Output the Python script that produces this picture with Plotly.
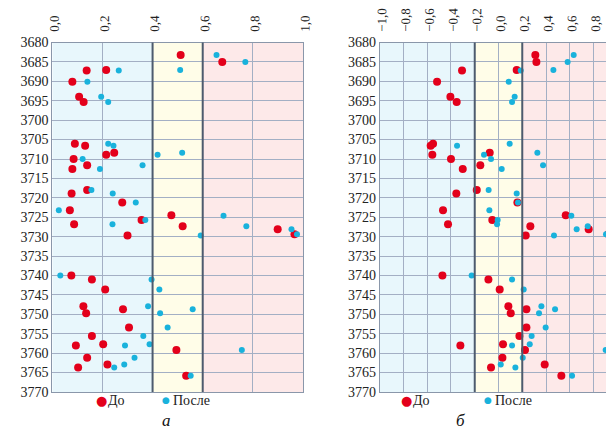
import plotly.graph_objects as go

# ---------------- data ----------------
depth_a = [3683.2, 3685.0, 3687.2, 3687.1, 3690.1, 3694.0, 3695.3,
           3706.1, 3706.6, 3708.9, 3708.4, 3710.0, 3711.6, 3712.6, 3718.0, 3718.9,
           3721.2, 3723.2, 3724.5, 3725.7, 3726.8, 3727.3, 3728.1, 3729.4, 3729.7,
           3740.0, 3741.0, 3743.6, 3747.9, 3748.7, 3749.7, 3753.4, 3755.6, 3758.0,
           3757.7, 3759.2, 3761.2, 3762.9, 3763.7, 3765.8]
before_a = [0.512, 0.678, 0.137, 0.215, 0.080, 0.107, 0.125,
            0.090, 0.131, 0.215, 0.247, 0.085, 0.139, 0.080, 0.139, 0.077,
            0.279, 0.070, 0.475, 0.356, 0.087, 0.520, 0.899, 0.966, 0.300,
            0.076, 0.158, 0.211, 0.124, 0.282, 0.135, 0.306, 0.158, 0.094,
            0.203, 0.495, 0.139, 0.220, 0.103, 0.534]
after_a_depth = [3683.2, 3685.0, 3687.2, 3687.1, 3690.1, 3694.0, 3695.3,
                 3706.1, 3706.6, 3708.9, 3708.4, 3710.0, 3711.6, 3712.6, 3718.0, 3718.9,
                 3721.2, 3723.2, 3724.6, 3725.7, 3726.8, 3727.3, 3728.1, 3729.4, 3729.7,
                 3740.0, 3741.0, 3743.6, 3747.9, 3748.7, 3749.7, 3753.4, 3755.6, 3758.0,
                 3757.7, 3759.2, 3761.2, 3762.9, 3763.7, 3765.8]
after_a = [0.655, 0.770, 0.265, 0.510, 0.140, 0.195, 0.223,
           0.223, 0.244, 0.420, 0.518, 0.121, 0.360, 0.190, 0.156, 0.241,
           0.333, 0.026, 0.683, 0.371, 0.240, 0.774, 0.954, 0.976, 0.592,
           0.032, 0.396, 0.427, 0.382, 0.560, 0.430, 0.460, 0.363, 0.290,
           0.388, 0.756, 0.328, 0.287, 0.247, 0.552]

depth_b = [3683.2, 3685.0, 3687.2, 3687.1, 3690.1, 3694.0, 3695.3,
           3706.1, 3706.6, 3708.9, 3708.4, 3710.0, 3711.6, 3712.6, 3718.0, 3718.9,
           3721.2, 3723.2, 3724.5, 3725.7, 3726.8, 3727.3, 3728.1, 3729.4, 3729.7,
           3740.0, 3741.0, 3743.6, 3747.9, 3748.7, 3749.7, 3753.4, 3755.6, 3758.0,
           3757.7, 3759.2, 3761.2, 3762.9, 3763.7, 3765.8]
before_b = [0.310, 0.319, -0.307, 0.153, -0.517, -0.405, -0.352,
            -0.551, -0.571, -0.557, -0.074, -0.400, -0.153, -0.301, -0.183, -0.355,
            0.159, -0.467, 0.566, -0.052, -0.425, 0.268, 0.759, 0.925, 0.229,
            -0.472, -0.085, 0.010, 0.083, 0.235, 0.103, 0.235, 0.176, -0.321,
            0.038, 0.223, 0.033, 0.389, -0.063, 0.529]
after_b_depth = [3683.2, 3685.0, 3687.2, 3687.1, 3690.1, 3694.0, 3695.3,
                 3706.1, 3706.6, 3708.9, 3708.4, 3710.0, 3711.6, 3712.6, 3718.0, 3718.9,
                 3721.2, 3723.2, 3724.6, 3725.7, 3726.8, 3727.3, 3728.1, 3729.4, 3729.7,
                 3740.0, 3741.0, 3743.6, 3747.9, 3748.7, 3749.7, 3753.4, 3755.6, 3758.0,
                 3757.7, 3759.2, 3761.2, 3762.9, 3763.7, 3765.8]
after_b = [0.633, 0.582, 0.187, 0.462, 0.086, 0.136, 0.114,
           0.094, -0.349, -0.122, 0.327, -0.063, 0.375, 0.027, -0.083, 0.153,
           0.164, -0.077, 0.613, -0.007, -0.012, 0.751, 0.658, 0.905, 0.467,
           -0.226, 0.114, 0.212, 0.361, 0.476, 0.341, 0.397, 0.279, 0.114,
           0.263, 0.902, 0.204, 0.019, 0.142, 0.619]

zones_a = [0.0, 0.4, 0.6, 1.0]
zones_b = [-1.0, -0.2, 0.2, 1.0]
zone_colors = ["#e8f7fc", "#fffde8", "#fde9e9"]
depth_range = [3680, 3770]
legend_names = ["До", "После"]
panel_labels = ["а", "б"]

RED = "#e3001b"
CYAN = "#19b2dc"
SERIF = "Liberation Serif"
W, H = 614, 428

fig = go.Figure()

fig.add_trace(go.Scatter(x=before_a, y=depth_a, mode="markers", name=legend_names[0],
                         marker=dict(color=RED, size=8), xaxis="x", yaxis="y"))
fig.add_trace(go.Scatter(x=after_a, y=after_a_depth, mode="markers", name=legend_names[1],
                         marker=dict(color=CYAN, size=6), xaxis="x", yaxis="y"))
fig.add_trace(go.Scatter(x=before_b, y=depth_b, mode="markers", name=legend_names[0],
                         marker=dict(color=RED, size=8), xaxis="x2", yaxis="y2"))
fig.add_trace(go.Scatter(x=after_b, y=after_b_depth, mode="markers", name=legend_names[1],
                         marker=dict(color=CYAN, size=6), xaxis="x2", yaxis="y2"))

shapes = []
for xr, yr, zones in (("x", "y domain", zones_a), ("x2", "y2 domain", zones_b)):
    for i in range(3):
        shapes.append(dict(type="rect", xref=xr, yref=yr, x0=zones[i], x1=zones[i + 1],
                           y0=0, y1=1, fillcolor=zone_colors[i], line=dict(width=0),
                           layer="below"))
    for b in zones[1:3]:
        shapes.append(dict(type="line", xref=xr, yref=yr, x0=b, x1=b, y0=0, y1=1,
                           line=dict(color="#4d5b6e", width=2), layer="above"))

grid = "#a3afc4"


def xax(**kw):
    d = dict(side="top", tickangle=-89.9, tickformat=".1f", dtick=0.2, showgrid=True,
             gridcolor=grid, gridwidth=1, zeroline=False, showline=True, linecolor="#8a97aa",
             mirror=True, tickfont=dict(family=SERIF, size=13, color="#222"), ticks="",
             ticklabelstandoff=-2, automargin=False, fixedrange=True)
    d.update(kw)
    return d


def yax(**kw):
    d = dict(range=[depth_range[1], depth_range[0]], dtick=5, tickformat="d", showgrid=True,
             gridcolor=grid, gridwidth=1, zeroline=False, showline=True, linecolor="#8a97aa",
             mirror=True, tickfont=dict(family=SERIF, size=14, color="#222"), ticks="",
             automargin=False, fixedrange=True)
    d.update(kw)
    return d


top = 1 - 34.5 / H
bot = 1 - 384 / H

legend_y = 1 - 392 / H
legend_items = [
    (93.3, RED, 13, legend_names[0]), (157.7, CYAN, 9, legend_names[1]),
    (398.3, RED, 13, legend_names[0]), (480.0, CYAN, 9, legend_names[1]),
]
annotations = []
for px, col, sz, name in legend_items:
    annotations.append(dict(text="●", x=px / W, y=legend_y, xref="paper", yref="paper",
                            showarrow=False, xanchor="center", yanchor="middle",
                            font=dict(family="DejaVu Sans", size=sz, color=col)))
    annotations.append(dict(text=name, x=(px + 6) / W, y=legend_y, xref="paper", yref="paper",
                            showarrow=False, xanchor="left", yanchor="middle", borderpad=0,
                            font=dict(family=SERIF, size=14, color="#222")))
for px, lab in ((158, panel_labels[0]), (452, panel_labels[1])):
    annotations.append(dict(text="<i>" + lab + "</i>", x=px / W, y=1 - 423 / H, xref="paper",
                            yref="paper", showarrow=False, xanchor="center", yanchor="bottom",
                            borderpad=0, font=dict(family=SERIF, size=17, color="#111")))

fig.update_layout(
    width=W, height=H,
    margin=dict(l=0, r=0, t=0, b=0),
    paper_bgcolor="white", plot_bgcolor="rgba(0,0,0,0)",
    separators=", ",
    showlegend=False,
    xaxis=xax(domain=[44.3 / W, 295 / W], range=[zones_a[0], zones_a[-1]], tick0=0, anchor="y"),
    yaxis=yax(domain=[bot, top], anchor="x"),
    xaxis2=xax(domain=[371.7 / W, 609.3 / W], range=[zones_b[0], zones_b[-1]], tick0=-1,
               anchor="y2"),
    yaxis2=yax(domain=[bot, top], anchor="x2"),
    shapes=shapes,
    annotations=annotations,
)

fig.write_html("out.html")
